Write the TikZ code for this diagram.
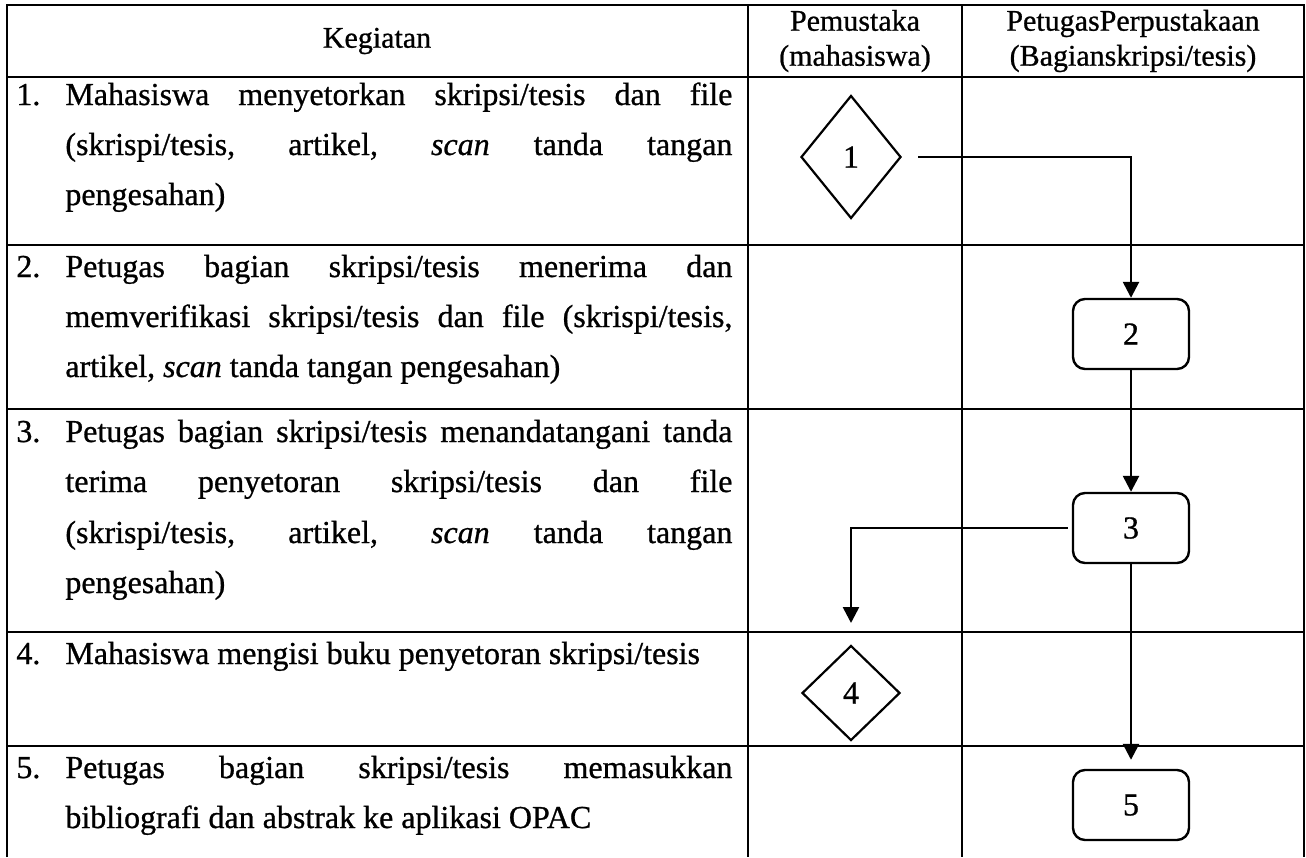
\documentclass[tikz,border=0pt]{standalone}
\usepackage{fontspec}
\setmainfont{Liberation Serif}[FakeBold=0.8]
\usetikzlibrary{shapes.geometric,arrows.meta}

% one stretched line of a justified paragraph
\newcommand{\jline}[1]{\makebox[333.5pt][s]{#1}}

\begin{document}
\begin{tikzpicture}[x=0.5pt,y=-0.5pt,
  gridline/.style={line width=1pt},
  flowarrow/.style={line width=1.3pt,-{Triangle[length=8pt,width=8pt]}},
  decision/.style={diamond,draw,line width=1.1pt,inner sep=0pt,
    minimum width=50pt,minimum height=61.5pt,font=\fontsize{16}{19}\selectfont},
  process/.style={rectangle,rounded corners=6pt,draw,line width=1.2pt,
    minimum width=58pt,minimum height=35pt,font=\fontsize{16}{19}\selectfont},
  txt/.style={anchor=base west,inner sep=0pt,font=\fontsize{16}{25}\selectfont},
  head/.style={align=center,inner sep=0pt,font=\fontsize{15}{17.5}\selectfont}]

\useasboundingbox (0,0) rectangle (1306,857);

% table frame (open at the bottom)
\draw[gridline] (7,857) -- (7,5) -- (1304,5) -- (1304,857);
\draw[gridline] (748,5) -- (748,857);
\draw[gridline] (962,5) -- (962,857);
\foreach \yy in {77,245,409,632,746}
  \draw[gridline] (7,\yy) -- (1304,\yy);

% column headings
\node[head] (h1) at (377,41) {Kegiatan};
\node[head] (h2) at (855,41) {Pemustaka\\(mahasiswa)};
\node[head] (h3) at (1133,41) {PetugasPerpustakaan\\(Bagianskripsi/tesis)};

% activity 1
\node[txt] (n1) at (16,105) {1.};
\node[txt] (t1a) at (65,105) {\jline{Mahasiswa menyetorkan skripsi/tesis dan file}};
\node[txt] (t1b) at (65,155) {\jline{(skrispi/tesis, artikel, \textit{scan} tanda tangan}};
\node[txt] (t1c) at (65,205) {pengesahan)};

% activity 2
\node[txt] (n2) at (16,277) {2.};
\node[txt] (t2a) at (65,277) {\jline{Petugas bagian skripsi/tesis menerima dan}};
\node[txt] (t2b) at (65,327) {\jline{memverifikasi skripsi/tesis dan file (skrispi/tesis,}};
\node[txt] (t2c) at (65,377) {artikel, \textit{scan} tanda tangan pengesahan)};

% activity 3
\node[txt] (n3) at (16,442) {3.};
\node[txt] (t3a) at (65,442) {\jline{Petugas bagian skripsi/tesis menandatangani tanda}};
\node[txt] (t3b) at (65,492) {\jline{terima penyetoran skripsi/tesis dan file}};
\node[txt] (t3c) at (65,543) {\jline{(skrispi/tesis, artikel, \textit{scan} tanda tangan}};
\node[txt] (t3d) at (65,593) {pengesahan)};

% activity 4
\node[txt] (n4) at (16,664) {4.};
\node[txt] (t4a) at (65,664) {Mahasiswa mengisi buku penyetoran skripsi/tesis};

% activity 5
\node[txt] (n5) at (16,778) {5.};
\node[txt] (t5a) at (65,778) {\jline{Petugas bagian skripsi/tesis memasukkan}};
\node[txt] (t5b) at (65,828) {bibliografi dan abstrak ke aplikasi OPAC};

% flow symbols
\node[decision] (d1) at (851,157) {1};
\node[process] (b2) at (1131,334) {2};
\node[process] (b3) at (1131,528) {3};
\node[decision,minimum width=49pt,minimum height=47.5pt] (d4) at (851,693) {4};
\node[process] (b5) at (1131,805) {5};

% connectors
\coordinate (a4) at (851,623);
\draw[flowarrow] ([xshift=8pt]d1.east) -| (b2.north);
\draw[flowarrow] (b2.south) -- (b3.north);
\draw[flowarrow] ([xshift=-2pt]b3.west) -| (a4);
\draw[flowarrow] (b3.south) -- ([yshift=4.5pt]b5.north);

\end{tikzpicture}
\end{document}
